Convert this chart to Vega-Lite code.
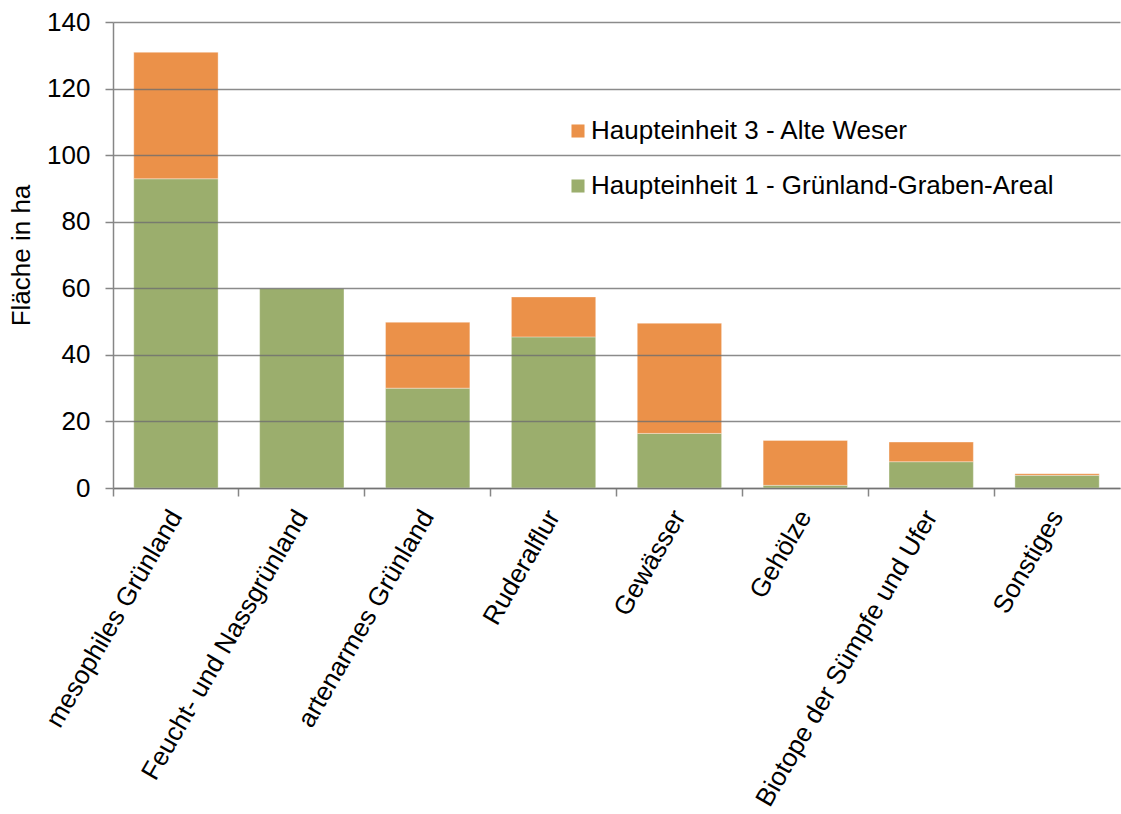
{
  "$schema": "https://vega.github.io/schema/vega-lite/v6.json",
  "autosize": {"type": "none"},
  "width": 1007,
  "height": 466,
  "padding": {"left": 113, "top": 22, "right": 1, "bottom": 326},
  "background": "white",
  "config": {
    "font": "Liberation Sans",
    "view": {"stroke": null}
  },
  "data": {
    "values": [
      {"biotop": "mesophiles Grünland", "serie": "Haupteinheit 1 - Grünland-Graben-Areal", "flaeche": 92.9},
      {"biotop": "mesophiles Grünland", "serie": "Haupteinheit 3 - Alte Weser", "flaeche": 38.0},
      {"biotop": "Feucht- und Nassgrünland", "serie": "Haupteinheit 1 - Grünland-Graben-Areal", "flaeche": 60.0},
      {"biotop": "Feucht- und Nassgrünland", "serie": "Haupteinheit 3 - Alte Weser", "flaeche": 0.0},
      {"biotop": "artenarmes Grünland", "serie": "Haupteinheit 1 - Grünland-Graben-Areal", "flaeche": 30.0},
      {"biotop": "artenarmes Grünland", "serie": "Haupteinheit 3 - Alte Weser", "flaeche": 19.8},
      {"biotop": "Ruderalflur", "serie": "Haupteinheit 1 - Grünland-Graben-Areal", "flaeche": 45.4},
      {"biotop": "Ruderalflur", "serie": "Haupteinheit 3 - Alte Weser", "flaeche": 12.0},
      {"biotop": "Gewässer", "serie": "Haupteinheit 1 - Grünland-Graben-Areal", "flaeche": 16.4},
      {"biotop": "Gewässer", "serie": "Haupteinheit 3 - Alte Weser", "flaeche": 33.1},
      {"biotop": "Gehölze", "serie": "Haupteinheit 1 - Grünland-Graben-Areal", "flaeche": 0.8},
      {"biotop": "Gehölze", "serie": "Haupteinheit 3 - Alte Weser", "flaeche": 13.5},
      {"biotop": "Biotope der Sümpfe und Ufer", "serie": "Haupteinheit 1 - Grünland-Graben-Areal", "flaeche": 7.9},
      {"biotop": "Biotope der Sümpfe und Ufer", "serie": "Haupteinheit 3 - Alte Weser", "flaeche": 5.9},
      {"biotop": "Sonstiges", "serie": "Haupteinheit 1 - Grünland-Graben-Areal", "flaeche": 3.8},
      {"biotop": "Sonstiges", "serie": "Haupteinheit 3 - Alte Weser", "flaeche": 0.5}
    ]
  },
  "encoding": {
    "x": {
      "field": "biotop",
      "type": "nominal",
      "sort": null,
      "scale": {"paddingInner": 0, "paddingOuter": 0}
    }
  },
  "layer": [
    {
      "mark": {"type": "bar", "width": {"band": 0.67}, "stroke": "#ffffff", "strokeOpacity": 0.35, "strokeWidth": 1},
      "encoding": {
        "x": {
          "field": "biotop",
          "type": "nominal",
          "sort": null,
          "axis": {
            "orient": "bottom",
            "title": null,
            "labelAngle": -60,
            "labelFontSize": 26,
            "labelColor": "#000000",
            "labelPadding": 24,
            "labelLimit": 500,
            "ticks": false,
            "domain": true,
            "domainColor": "#868686",
            "domainWidth": 1.5
          }
        },
        "y": {
          "field": "flaeche",
          "type": "quantitative",
          "aggregate": "sum",
          "stack": "zero",
          "scale": {"domain": [0, 140], "nice": false},
          "axis": {
            "title": "Fläche in ha",
            "titleFontSize": 26,
            "titleFontWeight": "normal",
            "titleColor": "#000000",
            "titlePadding": 12,
            "values": [0, 20, 40, 60, 80, 100, 120, 140],
            "labelFontSize": 26,
            "labelColor": "#000000",
            "labelPadding": 15,
            "tickSize": 8,
            "tickColor": "#868686",
            "tickWidth": 1.5,
            "domainColor": "#868686",
            "domainWidth": 1.5,
            "grid": true,
            "gridColor": "#6e6e6e",
            "gridOpacity": 0.8,
            "gridWidth": 1.5,
            "zindex": 1
          }
        },
        "color": {
          "field": "serie",
          "type": "nominal",
          "scale": {
            "domain": ["Haupteinheit 3 - Alte Weser", "Haupteinheit 1 - Grünland-Graben-Areal"],
            "range": ["#EB9149", "#9BAE6D"]
          },
          "legend": {
            "title": null,
            "orient": "none",
            "legendX": 452,
            "legendY": 96,
            "symbolType": "square",
            "symbolSize": 170,
            "symbolStrokeWidth": 0,
            "labelFontSize": 26,
            "labelColor": "#000000",
            "labelLimit": 600,
            "labelOffset": 0,
            "rowPadding": 29
          }
        },
        "order": {"field": "serie", "sort": "ascending"}
      }
    },
    {
      "mark": {"type": "tick", "opacity": 0},
      "encoding": {
        "x": {
          "field": "biotop",
          "type": "nominal",
          "sort": null,
          "axis": {
            "orient": "bottom",
            "title": null,
            "labels": false,
            "domain": false,
            "grid": false,
            "ticks": true,
            "bandPosition": 0,
            "tickSize": 8,
            "tickColor": "#868686",
            "tickWidth": 1.5
          }
        }
      }
    }
  ],
  "resolve": {"axis": {"x": "independent"}}
}
